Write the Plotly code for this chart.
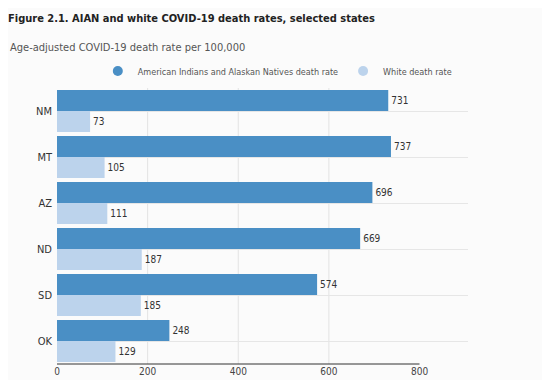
import plotly.graph_objects as go

states = ["NM", "MT", "AZ", "ND", "SD", "OK"]
aian_rates = [731, 737, 696, 669, 574, 248]
white_rates = [73, 105, 111, 187, 185, 129]
series_names = ["American Indians and Alaskan Natives death rate", "White death rate"]
x_ticks = [0, 200, 400, 600, 800]
grid_x = [200, 400, 600]

DARK = "#4a8fc5"
LIGHT = "#bcd3ec"
NARROW = "Liberation Sans Narrow, DejaVu Sans Condensed, Arial Narrow, sans-serif"

# page has an 8px body margin; figure is sized to fill the rest of the window
W, H = 542, 372
L, T, R, B = 49, 80, 82, 16
PW, PH = W - L - R, H - T - B

fig = go.Figure()
fig.add_trace(go.Bar(
    y=states, x=aian_rates, orientation="h", name=series_names[0],
    marker=dict(color=DARK, line=dict(width=0)),
    text=aian_rates, textposition="outside", cliponaxis=False,
    textfont=dict(family=NARROW, size=10, color="#333333"),
    showlegend=False,
))
fig.add_trace(go.Bar(
    y=states, x=white_rates, orientation="h", name=series_names[1],
    marker=dict(color=LIGHT, line=dict(width=0)),
    text=white_rates, textposition="outside", cliponaxis=False,
    textfont=dict(family=NARROW, size=10, color="#333333"),
    showlegend=False,
))
# legend entries with circular markers
for nm, col in zip(series_names, [DARK, LIGHT]):
    fig.add_trace(go.Scatter(
        x=[None], y=[None], mode="markers", name=nm,
        marker=dict(symbol="circle", size=10, color=col),
    ))

for gx in grid_x:
    fig.add_shape(type="line", xref="x", yref="paper", x0=gx, x1=gx, y0=0, y1=1,
                  line=dict(color="#e3e3e3", width=1), layer="below")
fig.add_shape(type="line", xref="x", yref="paper", x0=x_ticks[0], x1=x_ticks[-1], y0=0, y1=0,
              line=dict(color="#333333", width=1), layer="above")

fig.update_layout(
    width=W, height=H,
    margin=dict(l=L, r=R, t=T, b=B, autoexpand=False),
    paper_bgcolor="#fbfbfb", plot_bgcolor="#fbfbfb",
    barmode="group", bargap=0.09, bargroupgap=0,
    title=dict(
        text="<b>Figure 2.1. AIAN and white COVID-19 death rates, selected states</b>",
        x=0.0, xanchor="left", xref="container",
        y=1 - 10/H, yanchor="middle", yref="container",
        font=dict(family=NARROW, size=11, color="#222222"),
    ),
    legend=dict(
        orientation="h", x=0.536, xanchor="center", y=1 + 17/PH, yanchor="middle",
        font=dict(family=NARROW, size=9, color="#555555"),
        bgcolor="rgba(0,0,0,0)", itemwidth=30,
    ),
    xaxis=dict(
        range=[0, 907], tickvals=x_ticks, showgrid=False, zeroline=False,
        showline=False, ticks="", tickfont=dict(family=NARROW, size=10, color="#444444"),
        fixedrange=True,
    ),
    yaxis=dict(
        autorange="reversed", showgrid=True, gridcolor="#e6e6e6", gridwidth=1,
        zeroline=False, showline=False, ticks="", ticklabelstandoff=4,
        tickfont=dict(family=NARROW, size=11, color="#333333"),
    ),
    annotations=[dict(
        text="Age-adjusted COVID-19 death rate per 100,000",
        xref="paper", yref="paper", x=-L/PW, y=1 + 41/PH,
        xanchor="left", yanchor="middle", showarrow=False,
        font=dict(family=NARROW, size=11, color="#555555"),
    )],
)

fig.write_html("out.html")
